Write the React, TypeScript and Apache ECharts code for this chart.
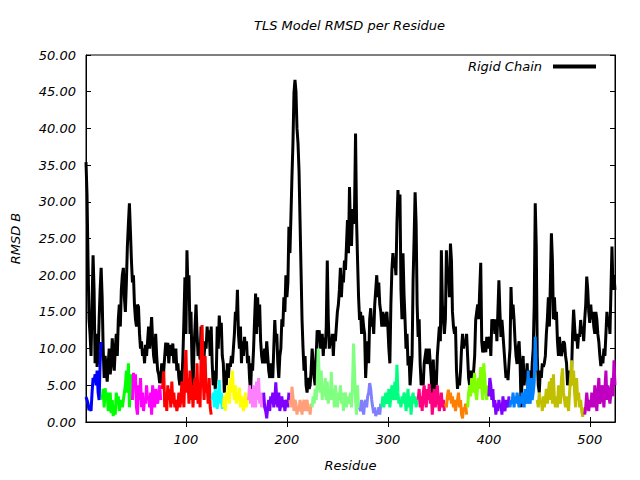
import React, { useEffect, useRef } from "react";
import * as echarts from "echarts";

const titleText = "TLS Model RMSD per Residue";
const xName = "Residue";
const yName = "RMSD B";
const legendName = "Rigid Chain";
const xTicks = [100, 200, 300, 400, 500];
const xMin = 1;
const xMax = 525;

// Rigid chain RMSD per residue (residues 1..525)
const rigidChain = [
  35.4, 31, 22, 14, 12, 9, 16, 22.7, 18, 8,
  12, 7.5, 9, 14, 18, 21, 17, 10, 6, 9,
  7, 5.5, 8, 10, 6.5, 8, 11.4, 9, 7, 10,
  12, 9, 14, 16, 13, 18, 20, 21, 17, 15,
  19, 24, 27, 29.8, 26, 22, 19, 20, 16, 14,
  13, 16, 15.7, 12, 10, 11, 9, 10, 8, 10.5,
  9, 11, 13, 10, 12, 14.3, 11, 9, 8, 12,
  9, 7, 6.5, 5.3, 6, 8, 5.3, 7, 9, 10.8,
  9, 10.8, 8, 10, 10.5, 9, 10.7, 8, 9.5, 10,
  7, 8, 6, 5, 7, 5.5, 9, 14, 19.7, 12,
  23.4, 18, 20, 12, 15, 8, 4.5, 10, 13, 16,
  12, 9, 10, 8.5, 13, 10, 8.5, 9, 11, 10,
  13, 11, 12.5, 9, 13, 8, 5, 7, 4.5, 6,
  13, 10, 14.5, 12, 13.5, 9, 8, 4, 7, 5,
  8, 6, 8, 7.5, 9, 8, 10, 12, 15, 14,
  18, 12, 10, 13, 8, 11, 9, 11.6, 10, 11,
  8, 9, 6, 4, 8, 7, 10, 14, 17.5, 12,
  17, 13, 16, 11, 9, 8, 9, 10, 8, 11,
  9, 7, 6, 8, 7, 6, 10, 13.9, 11, 12,
  8, 6, 9, 10, 14, 13, 17, 15, 20, 17,
  19, 26.6, 23, 28, 33.4, 38, 44.8, 46.6, 45, 40,
  38, 34.3, 27.5, 20.7, 13.9, 10, 7, 9, 5, 4,
  6, 4.5, 5, 7, 10, 8, 6, 5, 9, 12.5,
  11, 12.5, 10, 11, 12, 9, 11.5, 10, 13, 22,
  14, 10, 11, 10.5, 12, 9, 12, 11, 13, 15,
  16, 18, 21, 17, 20, 19, 22, 20.7, 24, 27.5,
  23, 32, 26, 24, 29, 27, 29, 39.3, 27.5, 22,
  17, 13.9, 15, 12, 14.5, 13, 12, 6, 9, 11,
  8, 14, 15.5, 13, 14, 12, 16, 18, 20, 17,
  19, 16, 15, 13, 15, 14, 13, 14.5, 15, 13,
  10, 8, 16, 20.7, 23, 21, 22, 20, 27, 31.6,
  28, 31, 18, 14, 23, 17.5, 14, 10, 12, 7.7,
  9, 5, 7, 9, 19.3, 25, 31.3, 27, 16, 11.6,
  14, 8, 5, 6, 5, 8, 9, 10, 7.9, 9,
  10, 8, 6, 2.5, 8.5, 4, 7, 5, 9, 11,
  13, 11, 23.4, 16, 13.9, 12, 14, 23.4, 19, 21,
  17, 24.3, 22, 15, 13, 12, 13, 7, 4.5, 6,
  5, 7, 10, 12, 10, 11, 10.5, 12, 9, 6,
  5, 7, 6, 5, 7, 9, 13.9, 15, 16, 14,
  18, 21.7, 11, 9.5, 10, 11, 9.5, 11.6, 10, 11,
  11.6, 9, 14, 13, 14, 12, 14, 11, 15, 19.3,
  15, 11.6, 13.9, 12, 10, 8, 6, 7, 5.7, 8,
  10, 18.4, 14, 16, 14, 11, 9, 7.9, 10, 11,
  8, 2, 6, 9, 5, 7, 6, 8, 4, 6,
  7, 5, 8, 10, 16, 29.8, 24, 9, 5, 4,
  7, 6, 8, 7.5, 8, 9, 12, 14, 17, 13,
  19, 25.7, 22, 14, 17, 13.9, 15, 11, 9, 11.6,
  10, 9, 10, 11, 10.7, 9, 8, 5, 7, 6,
  5, 7, 12, 15.3, 13, 11, 12, 10, 12, 11.6,
  13.9, 12, 13, 11, 14, 16, 19.8, 18, 15, 13.5,
  16, 14, 15, 13, 12, 15, 14, 12, 10.9, 9,
  7.6, 9, 8, 10, 9, 12, 15, 13, 14, 12,
  18, 23.9, 18, 20, 18,
];

// TLS group segments: first residue of each group
const groupStarts = [1, 17, 47, 76, 126, 137, 162, 177, 203, 225, 272, 294, 330, 357, 379, 400, 421, 448, 495];

const group01 = [3.4, 3, 2.5, 1.6, 2, 1.5, 4, 6, 5.5, 6.5, 5, 7, 4, 3, 8, 10.9];
const group02 = [3, 4.5, 2, 4.6, 3, 4, 1.5, 2, 4, 1.2, 3, 0.8, 2, 1, 4, 2.5, 3.5, 1.5, 2.5, 3, 2, 3, 4, 5, 7, 4, 8, 2, 5.5, 6.5];
const group03 = [3, 6.7, 5, 6.5, 2, 1, 5, 3, 6, 2, 4, 1.5, 3, 2.5, 5, 3, 3.5, 2, 4, 1, 5, 3, 2, 4.5, 3, 2.5, 4, 5, 3];
const group04 = [4.5, 5, 6.9, 2, 4, 1.5, 5, 3, 4.5, 2, 5.5, 2.5, 4, 2, 3, 1.5, 2.5, 4, 2, 3, 5.5, 4, 2, 7, 9.8, 4, 6, 2.5, 7, 3, 5, 2, 5, 6, 3, 8, 2.5, 5, 2, 9, 13.2, 6, 3, 9, 4, 5, 2.5, 6, 2, 1];
const group05 = [3, 4, 2, 4.5, 3, 1.8, 3.5, 5.7, 2.5, 4, 1.8];
const group06 = [2, 3.5, 1.5, 4, 3, 5, 2.5, 6, 4, 7, 4.5, 3, 5, 2.5, 4, 3, 4.7, 2, 3.5, 2.5, 1.5, 3, 4, 2, 3.5];
const group07 = [3, 5, 2.5, 4.5, 2, 5, 3, 2, 5.5, 3, 6, 2.5, 4, 2, 3.5];
const group08 = [4, 2, 1.5, 0.5, 2, 3, 1.5, 3.5, 2.5, 4, 2, 3, 5.4, 3, 2, 4, 1.5, 2.5, 3.5, 2, 3, 1.5, 2.5, 3, 2, 4];
const group09 = [3, 2, 4.8, 3.5, 1.5, 3, 2.5, 1, 2, 1.5, 3, 2, 1, 2.5, 3, 1.5, 2.5, 3, 1.5, 2, 1, 2.5];
const group10 = [2, 3.5, 2.5, 4.5, 3, 5, 10, 6, 4, 7, 3, 5, 3.5, 6, 3, 5.5, 2.5, 4, 3, 6.8, 3, 4.5, 2, 5, 3.5, 2, 4, 3, 5, 2.5, 4, 1.5, 3.5, 4, 2, 3.5, 2.5, 3, 4, 2, 5, 10.7, 7, 3, 1, 5, 2];
const group11 = [2, 1.5, 3, 2, 1, 2.5, 3, 2, 3.5, 4, 5.3, 4.5, 3, 2, 1.2, 2, 0.8, 1.5, 1, 2, 1, 2.5];
const group12 = [2, 3.5, 2, 3, 4, 2.5, 3, 4.5, 2, 3.5, 5, 3, 4, 5.5, 3, 7.8, 4, 2.5, 3, 2, 3.5, 2.5, 4, 3.5, 1.5, 3, 4.5, 2, 3.5, 1, 3, 4, 2.5, 3.5, 2, 3];
const group13 = [3, 4.5, 2, 3.5, 1.5, 4, 5, 3, 2, 4.5, 3, 5.2, 2.5, 4, 1, 3, 4.5, 2, 3.5, 5, 3, 1.5, 2.5, 4, 2, 3, 1.5];
const group14 = [2.5, 2, 3.5, 4.4, 3, 4, 2.5, 3.5, 2, 3, 1.5, 2.5, 3, 4, 2, 3, 1, 0.5, 2, 1.5, 2.5, 1];
const group15 = [2, 4, 5, 3.5, 6, 4, 5.5, 6.7, 4, 3, 5, 6, 4.5, 7.5, 5, 3, 8, 6, 4, 3, 5];
const group16 = [3.5, 6, 5, 3, 4.5, 2, 3, 1, 2.5, 1.5, 3, 2, 2.5, 1, 3.5, 2, 1.5, 3, 2.5, 2, 3.5];
const group17 = [2, 3, 2.5, 4, 2, 3.5, 2.5, 4, 3, 2, 3.5, 2.5, 4, 3, 2, 4.5, 3, 2.5, 7, 3, 2.5, 6, 3, 4, 5.5, 11.6, 7];
const group18 = [3, 2, 4, 2.5, 3, 1.5, 3.5, 2, 3, 4.5, 2.5, 4, 5.5, 3, 6, 2.5, 6.5, 3, 2, 3.5, 2, 5, 3, 2.5, 6, 7.3, 4, 3, 2, 3.5, 2.5, 1.5, 4, 6, 8.4, 5, 7, 4, 2, 6, 3, 4, 2, 3, 1.5, 0.7, 2];
const group19 = [1, 2, 4, 2.5, 1.5, 3, 2, 4, 3.5, 2, 5, 3, 1.5, 4, 6, 2.5, 3, 5, 4, 2, 4.5, 7, 3, 5, 3.5, 2.5, 4, 6, 3.5, 8.4, 5];

const groupValues = [group01, group02, group03, group04, group05, group06, group07, group08, group09, group10,
  group11, group12, group13, group14, group15, group16, group17, group18, group19];

const groupColors = ["#0000ff", "#00ff00", "#ff00ff", "#ff0000", "#00ffff", "#ffff00", "#ff80ff", "#8000ff", "#ffa07a",
  "#80ff80", "#8080ff", "#00ff80", "#ff0080", "#ff8000", "#80ff00", "#8000ff", "#0080ff", "#c0c000", "#c000c0"];

const FONT = "DejaVu Sans";

export default function App() {
  const ref = useRef<HTMLDivElement>(null);
  useEffect(() => {
    if (!ref.current) return;
    const chart = echarts.init(ref.current, null, { renderer: "svg" });
    const textBase = { fontFamily: FONT, fontStyle: "italic" as const, fontSize: 13, color: "#000" };

    const series: any[] = [
      {
        name: legendName,
        type: "line",
        showSymbol: false,
        symbol: "none",
        z: 2,
        lineStyle: { color: "#000", width: 3 },
        itemStyle: { color: "#000" },
        data: rigidChain.map((v, i) => [xMin + i, v]),
      },
    ];
    groupValues.forEach((vals, gi) => {
      series.push({
        name: "group" + (gi + 1),
        type: "line",
        showSymbol: false,
        symbol: "none",
        z: 3,
        lineStyle: { color: groupColors[gi], width: 3 },
        itemStyle: { color: groupColors[gi] },
        data: vals.map((v, i) => [groupStarts[gi] + i, v]),
      });
    });

    chart.setOption({
      animation: false,
      backgroundColor: "#fff",
      title: {
        text: titleText,
        left: 254,
        top: 19,
        padding: 0,
        textStyle: { ...textBase, fontWeight: "normal" },
      },
      legend: {
        data: [legendName],
        right: 44,
        top: 60,
        padding: 0,
        align: "right",
        icon: "rect",
        itemWidth: 43,
        itemHeight: 4,
        textStyle: { ...textBase, padding: [0, 6, 0, 0] },
      },
      grid: {
        left: 86,
        right: 25,
        top: 55,
        bottom: 58,
        show: true,
        borderColor: "#000",
        borderWidth: 1,
        backgroundColor: "transparent",
      },
      xAxis: [
        {
          type: "value",
          min: xMin,
          max: xMax,
          name: xName,
          nameLocation: "middle",
          nameGap: 37,
          nameTextStyle: textBase,
          axisLine: { show: true, lineStyle: { color: "#000", width: 1 } },
          axisTick: { show: true, inside: true, length: 5, customValues: xTicks, lineStyle: { color: "#000" } },
          axisLabel: { ...textBase, margin: 11, customValues: xTicks },
          splitLine: { show: false },
        },
        {
          type: "value",
          position: "top",
          min: xMin,
          max: xMax,
          axisLine: { show: true, lineStyle: { color: "#000", width: 1 } },
          axisTick: { show: true, inside: true, length: 5, customValues: xTicks, lineStyle: { color: "#000" } },
          axisLabel: { show: false },
          splitLine: { show: false },
        },
      ],
      yAxis: [
        {
          type: "value",
          min: 0,
          max: 50,
          interval: 5,
          name: yName,
          nameLocation: "middle",
          nameGap: 64,
          nameRotate: 90,
          nameTextStyle: textBase,
          axisLine: { show: true, lineStyle: { color: "#000", width: 1 } },
          axisTick: { show: true, inside: true, length: 5, lineStyle: { color: "#000" } },
          axisLabel: { ...textBase, margin: 10, formatter: (v: number) => v.toFixed(2) },
          splitLine: { show: false },
        },
        {
          type: "value",
          position: "right",
          min: 0,
          max: 50,
          interval: 5,
          axisLine: { show: true, lineStyle: { color: "#000", width: 1 } },
          axisTick: { show: true, inside: true, length: 5, lineStyle: { color: "#000" } },
          axisLabel: { show: false },
          splitLine: { show: false },
        },
      ],
      series,
    });
    return () => chart.dispose();
  }, []);

  return (
    <div
      ref={ref}
      style={{ position: "fixed", left: 0, top: 0, width: 640, height: 480, background: "#fff" }}
    />
  );
}
